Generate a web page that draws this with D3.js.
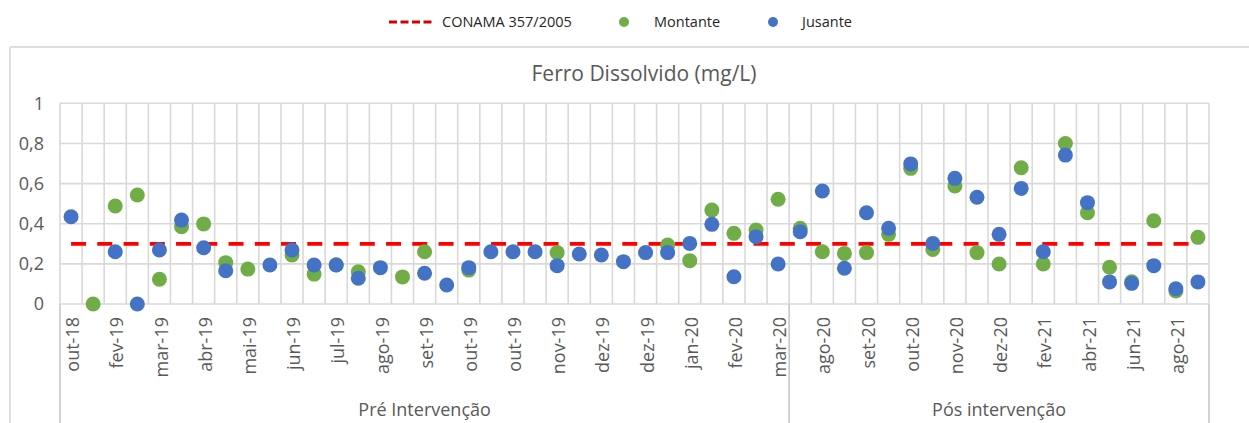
<!DOCTYPE html>
<html><head><meta charset="utf-8">
<script src="https://cdn.jsdelivr.net/npm/d3@7"></script>
<style>
html,body{margin:0;padding:0;background:#fff;}
svg{display:block;font-family:"Open Sans",sans-serif;}
</style></head>
<body><svg id="c" width="1249" height="423"></svg>
<script>
// ---- data ----
const categories = ["out-18","jan-19","fev-19","fev-19","mar-19","mar-19","abr-19","abr-19","mai-19","mai-19",
  "jun-19","jun-19","jul-19","jul-19","ago-19","ago-19","set-19","set-19","out-19","out-19",
  "out-19","out-19","nov-19","nov-19","dez-19","dez-19","dez-19","jan-20","jan-20","jan-20",
  "fev-20","fev-20","mar-20","jul-20","ago-20","ago-20","set-20","set-20","out-20","out-20",
  "nov-20","nov-20","dez-20","jan-21","fev-21","mar-21","abr-21","mai-21","jun-21","jul-21",
  "ago-21","set-21"];
const groups = ["Pré Intervenção","Pós intervenção"];
const groupSizes = [33,19];
const montante = [null,0,0.488,0.543,0.123,0.385,0.399,0.206,0.174,null,
  0.244,0.149,0.195,0.161,null,0.135,0.26,null,0.169,null,
  null,null,0.256,null,null,null,null,0.294,0.216,0.468,
  0.352,0.369,0.522,0.377,0.26,0.252,0.256,0.347,0.676,0.272,
  0.588,0.256,0.199,0.679,0.199,0.8,0.455,0.183,0.111,0.415,
  0.065,0.332];
const jusante = [0.435,null,0.26,0,0.269,0.418,0.28,0.166,null,0.194,
  0.269,0.194,0.194,0.128,0.181,null,0.153,0.095,0.181,0.26,
  0.26,0.26,0.191,0.249,0.244,0.211,0.256,0.256,0.302,0.397,
  0.136,0.335,0.199,0.36,0.563,0.178,0.455,0.377,0.698,0.302,
  0.626,0.532,0.347,0.576,0.26,0.742,0.505,0.11,0.103,0.191,
  0.076,0.11];
const conamaLimit = 0.3;
const yTicks = [0,0.2,0.4,0.6,0.8,1];
const yTickLabels = ["0","0,2","0,4","0,6","0,8","1"];
const title = "Ferro Dissolvido (mg/L)";
const legendLabels = ["CONAMA 357/2005","Montante","Jusante"];

// ---- layout ----
const svg = d3.select("#c");
const L = 60, R = 1209, T = 103.3, B = 304, BOTTOM = 423;
const gridColor = "#d9d9d9", textColor = "#595959";
const green = "#70AD47", blue = "#4472C4";

const x = d3.scaleBand().domain(d3.range(categories.length)).range([L, R]).padding(0);
const y = d3.scaleLinear().domain([0, 1]).range([B, T]);

// outer chart border
svg.append("line").attr("x1",10).attr("x2",1249).attr("y1",47).attr("y2",47)
  .attr("stroke","#dedede").attr("stroke-width",2);
svg.append("line").attr("x1",10).attr("x2",10).attr("y1",47).attr("y2",BOTTOM)
  .attr("stroke","#dedede").attr("stroke-width",2);

// horizontal grid
const gy = svg.append("g");
gy.selectAll("line").data(yTicks).join("line")
  .attr("x1", L).attr("x2", R).attr("y1", d => y(d)).attr("y2", d => y(d))
  .attr("stroke", gridColor).attr("stroke-width", 1.6);
// vertical grid at category boundaries
const bounds = d3.range(categories.length + 1).map(i => i < categories.length ? x(i) : x(i-1) + x.bandwidth());
svg.append("g").selectAll("line").data(bounds).join("line")
  .attr("x1", d => d).attr("x2", d => d).attr("y1", T).attr("y2", B)
  .attr("stroke", gridColor).attr("stroke-width", 1.6);

// group separators extending below axis
let acc = 0;
const groupEdges = [L];
groupSizes.forEach(s => { acc += s; groupEdges.push(x(acc-1) + x.bandwidth()); });
svg.append("g").selectAll("line").data(groupEdges).join("line")
  .attr("x1", d => d).attr("x2", d => d).attr("y1", B).attr("y2", BOTTOM + 2)
  .attr("stroke", "#c8c8c8").attr("stroke-width", 1.6);

// y tick labels
svg.append("g").selectAll("text").data(yTicks).join("text")
  .attr("x", 44).attr("y", d => y(d)).attr("dy", "0.35em")
  .attr("text-anchor", "end").attr("fill", textColor).attr("font-size", 18)
  .text((d,i) => yTickLabels[i]);

// x tick labels (every other category)
const xLabIdx = d3.range(0, categories.length, 2);
svg.append("g").selectAll("text").data(xLabIdx).join("text")
  .attr("transform", i => `translate(${x(i) + x.bandwidth()/2},317) rotate(-90)`)
  .attr("dy", "0.45em").attr("text-anchor", "end")
  .attr("fill", textColor).attr("font-size", 18)
  .text(i => categories[i]);

// group labels
svg.append("g").selectAll("text").data(groups).join("text")
  .attr("x", (d,i) => (groupEdges[i] + groupEdges[i+1]) / 2).attr("y", 416)
  .attr("text-anchor", "middle").attr("fill", textColor).attr("font-size", 18)
  .text(d => d);

// title
svg.append("text").attr("x", 644).attr("y", 81).attr("text-anchor", "middle")
  .attr("fill", textColor).attr("font-size", 21).text(title);

// CONAMA line
const cx = i => x(i) + x.bandwidth()/2;
svg.append("path")
  .attr("d", d3.line()([[cx(0), y(conamaLimit)], [cx(categories.length-1), y(conamaLimit)]]))
  .attr("stroke", "#FF0000").attr("stroke-width", 3.75).attr("stroke-dasharray", "15,11.25").attr("fill","none");

// markers
function drawSeries(vals, color) {
  svg.append("g").selectAll("circle")
    .data(vals.map((v,i) => ({v,i})).filter(d => d.v !== null))
    .join("circle").attr("cx", d => cx(d.i)).attr("cy", d => y(d.v)).attr("r", 7.5)
    .attr("fill", color);
}
drawSeries(montante, green);
drawSeries(jusante, blue);

// legend
const lg = svg.append("g");
lg.append("line").attr("x1", 389).attr("x2", 432).attr("y1", 22).attr("y2", 22)
  .attr("stroke", "#d00000").attr("stroke-width", 2.8).attr("stroke-dasharray", "8,3.5");
lg.append("text").attr("x", 442).attr("y", 27).attr("font-size", 14.5).attr("fill", "#262626").text(legendLabels[0]);
lg.append("circle").attr("cx", 624).attr("cy", 22).attr("r", 5).attr("fill", green);
lg.append("text").attr("x", 654).attr("y", 27).attr("font-size", 14.5).attr("fill", "#262626").text(legendLabels[1]);
lg.append("circle").attr("cx", 773).attr("cy", 22).attr("r", 5).attr("fill", blue);
lg.append("text").attr("x", 802).attr("y", 27).attr("font-size", 14.5).attr("fill", "#262626").text(legendLabels[2]);
</script></body></html>
